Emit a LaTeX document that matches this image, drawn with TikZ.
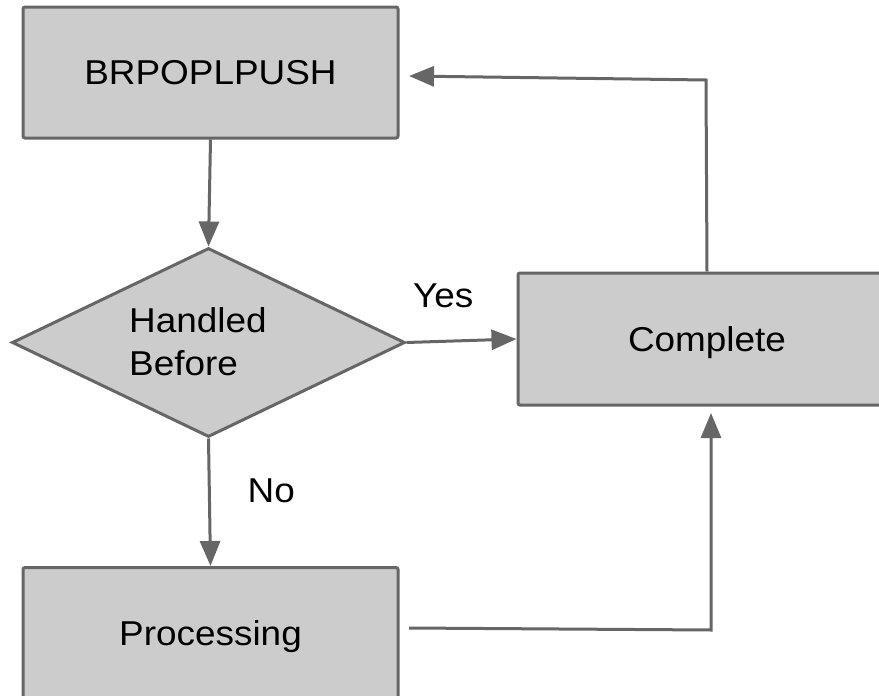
\documentclass[tikz,border=0pt]{standalone}
\usepackage{fontspec}
\setmainfont{Liberation Sans}[FakeStretch=1.07]
\usetikzlibrary{arrows.meta,shapes.geometric}
\definecolor{edgegray}{HTML}{666666}
\definecolor{boxgray}{HTML}{CCCCCC}
\begin{document}
\begin{tikzpicture}[x=1pt,y=-1pt,
  labelfont/.style={font=\fontsize{34.5}{43}\selectfont},
  box/.style={draw=edgegray, fill=boxgray, line width=3pt, rounded corners=2pt,
    inner sep=0pt, text height=25pt, text depth=1pt, labelfont},
  decision/.style={diamond, draw=edgegray, fill=boxgray, line width=3pt,
    inner sep=0pt, minimum width=393pt, minimum height=189pt},
  conn/.style={draw=edgegray, line width=3pt, -{Triangle[length=25pt,width=20pt]}},
  edgelabel/.style={labelfont, inner sep=0pt, anchor=base west}
]
\useasboundingbox (0,0) rectangle (879,696);

% process boxes and the decision
\node[box, minimum width=375pt, minimum height=131pt] (top) at (210.5,72.5) {BRPOPLPUSH};
\node[decision] (dec) at (208.5,342.5) {};
\node[labelfont, inner sep=0pt, align=left, anchor=west] (dectext) at (129,342) {Handled\\Before};
\node[box, minimum width=378pt, minimum height=132pt] (done) at (707,339) {Complete};
\node[box, minimum width=375pt, minimum height=131pt] (proc) at (210.5,633) {Processing};

% flow
\draw[conn] (top.south) -- (dec.north);
\draw[conn] (dec.east) -- (done.west);
\draw[conn] (dec.south) -- (proc.north);

\coordinate (p1) at (711,630);
\draw[conn, shorten >=6.5pt] ([shift={(9.5pt,5pt)}]proc.east) -- (p1) -- (p1 |- done.south);

\coordinate (p2) at (706,80);
\draw[conn] (done.north) -- (p2) -- ([shift={(9.5pt,-3.5pt)}]top.east);

% branch labels
\node[edgelabel] (yes) at (413,307) {Yes};
\node[edgelabel] (no) at (247.5,502) {No};
\end{tikzpicture}
\end{document}
